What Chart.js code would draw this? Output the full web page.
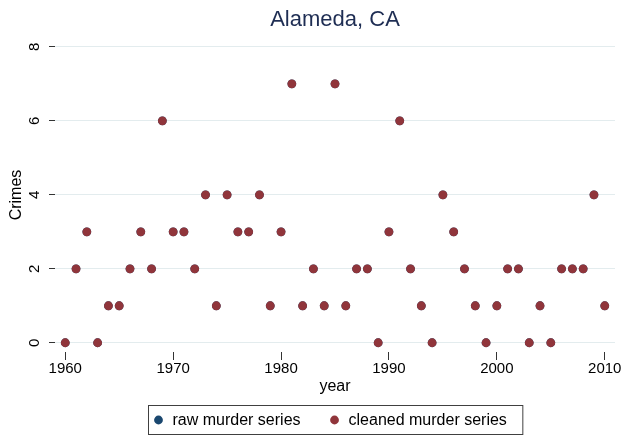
<!DOCTYPE html>
<html><head><meta charset="utf-8">
<script src="https://cdn.jsdelivr.net/npm/chart.js@4/dist/chart.umd.min.js"></script>
<style>html,body{margin:0;padding:0;background:#fff}#wrap{width:626px;height:437px}</style>
</head><body><div id="wrap"><canvas id="c" width="626" height="437"></canvas></div>
<script>
const years = [1960,1961,1962,1963,1964,1965,1966,1967,1968,1969,
  1970,1971,1972,1973,1974,1975,1976,1977,1978,1979,
  1980,1981,1982,1983,1984,1985,1986,1987,1988,1989,
  1990,1991,1992,1993,1994,1995,1996,1997,1998,1999,
  2000,2001,2002,2003,2004,2005,2006,2007,2008,2009,2010];
const rawMurders = [0,2,3,0,1,1,2,3,2,6,
  3,3,2,4,1,4,3,3,4,1,
  3,7,1,2,1,7,1,2,2,0,
  3,6,2,1,0,4,3,2,1,0,
  1,2,2,0,1,0,2,2,2,4,1];
const cleanedMurders = [0,2,3,0,1,1,2,3,2,6,
  3,3,2,4,1,4,3,3,4,1,
  3,7,1,2,1,7,1,2,2,0,
  3,6,2,1,0,4,3,2,1,0,
  1,2,2,0,1,0,2,2,2,4,1];
const xTicks = [1960,1970,1980,1990,2000,2010];
const yTicks = [0,2,4,6,8];
const seriesLabels = ['raw murder series','cleaned murder series'];
const seriesColors = ['#1a476f','#90353b'];
const chartTitle = 'Alameda, CA';
const xTitle = 'year';
const yTitle = 'Crimes';

const FONT = "'Liberation Sans', Arial, Helvetica, sans-serif";
Chart.defaults.font.family = FONT;
Chart.defaults.color = '#000';

const toPts = (ys) => years.map((yr, i) => ({x: yr, y: ys[i]}));

const yLabelPlugin = {
  id: 'yLabels',
  afterDraw(chart) {
    const s = chart.scales.y, ctx = chart.ctx;
    ctx.save();
    ctx.font = '15px ' + FONT;
    ctx.fillStyle = '#000';
    ctx.textAlign = 'center';
    ctx.textBaseline = 'middle';
    yTicks.forEach(v => {
      const py = s.getPixelForValue(v);
      ctx.save();
      ctx.translate(35, py);
      ctx.rotate(-Math.PI / 2);
      ctx.fillText(String(v), 0, 0);
      ctx.restore();
    });
    ctx.restore();
  }
};

const legendPlugin = {
  id: 'boxLegend',
  afterDraw(chart) {
    const ctx = chart.ctx, ca = chart.chartArea;
    ctx.save();
    ctx.font = '16px ' + FONT;
    const padL = 10, dotToText = 14, gap = 34, padR = 16, r = 4.4;
    const w0 = ctx.measureText(seriesLabels[0]).width;
    const w1 = ctx.measureText(seriesLabels[1]).width;
    const total = padL + dotToText + w0 + gap + dotToText + w1 + padR;
    const cx = (ca.left + ca.right) / 2;
    const left = Math.round(cx - total / 2) + 0.5;
    const top = 405.5, h = 29, cy = top + h / 2;
    ctx.fillStyle = '#fff';
    ctx.fillRect(left, top, total, h);
    ctx.strokeStyle = '#404040';
    ctx.lineWidth = 1;
    ctx.strokeRect(left, top, total, h);
    let x = left + padL;
    [w0, w1].forEach((w, i) => {
      ctx.beginPath();
      ctx.arc(x, cy, r, 0, Math.PI * 2);
      ctx.fillStyle = seriesColors[i];
      ctx.fill();
      ctx.fillStyle = '#000';
      ctx.textAlign = 'left';
      ctx.textBaseline = 'middle';
      ctx.fillText(seriesLabels[i], x + dotToText, cy + 1);
      x += dotToText + w + gap;
    });
    ctx.restore();
  }
};

new Chart(document.getElementById('c'), {
  type: 'scatter',
  data: {
    datasets: [
      {label: seriesLabels[0], data: toPts(rawMurders), backgroundColor: seriesColors[0],
       pointRadius: 4.4, pointBorderWidth: 0, order: 2},
      {label: seriesLabels[1], data: toPts(cleanedMurders), backgroundColor: seriesColors[1],
       pointRadius: 4.4, pointBorderWidth: 0, order: 1}
    ]
  },
  options: {
    responsive: false,
    animation: false,
    devicePixelRatio: 1,
    layout: {padding: {left: 0, right: 11, top: 0, bottom: 37}},
    plugins: {
      legend: {display: false},
      tooltip: {enabled: false},
      title: {display: true, text: chartTitle, color: '#1e2d53', fullSize: false,
        font: {size: 22, weight: 'normal'}, padding: {top: 7, bottom: 4.6}}
    },
    scales: {
      x: {
        type: 'linear', min: 1959.05, max: 2010.95,
        afterBuildTicks: (s) => { s.ticks = xTicks.map(v => ({value: v})); },
        afterFit: (s) => { s.height = 48; },
        border: {display: false},
        grid: {display: true, drawOnChartArea: false, drawTicks: true, tickLength: 8,
          tickColor: '#333', lineWidth: 1},
        ticks: {font: {size: 15}, color: '#000', padding: 0, maxRotation: 0,
          callback: (v) => String(v)},
        title: {display: true, text: xTitle, font: {size: 16}, color: '#000',
          padding: {top: 0, bottom: 3.4}}
      },
      y: {
        type: 'linear', min: -0.25, max: 8.24,
        afterBuildTicks: (s) => { s.ticks = yTicks.map(v => ({value: v})); },
        afterFit: (s) => { s.width = 55; },
        border: {display: false},
        grid: {display: true, drawOnChartArea: true, drawTicks: true, tickLength: 6,
          color: '#e3ecee', tickColor: '#333', lineWidth: 1},
        ticks: {display: false},
        title: {display: true, text: yTitle, font: {size: 16}, color: '#000',
          padding: {top: 7.4, bottom: 0}}
      }
    }
  },
  plugins: [yLabelPlugin, legendPlugin]
});
</script></body></html>
